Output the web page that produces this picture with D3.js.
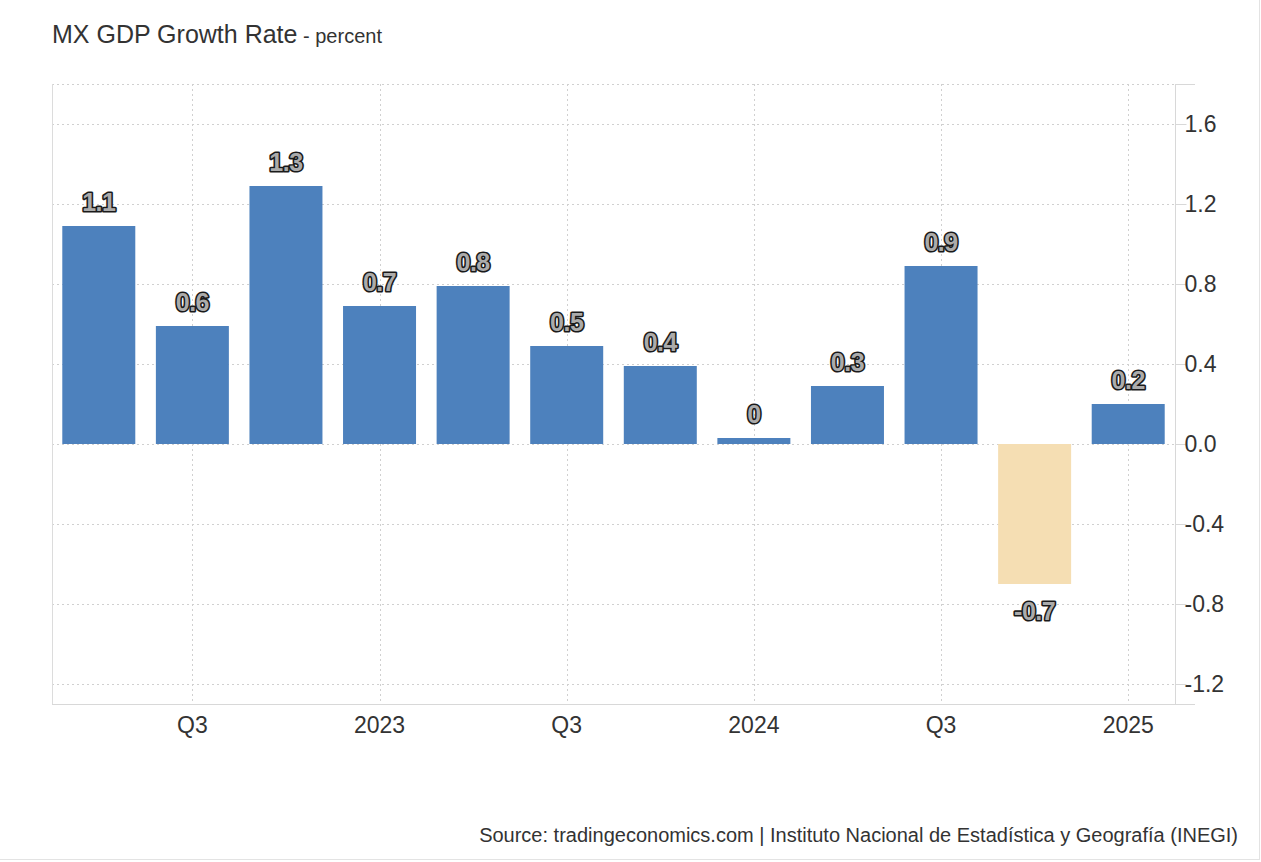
<!DOCTYPE html>
<html>
<head>
<meta charset="utf-8">
<script src="https://cdn.jsdelivr.net/npm/d3@7"></script>
<style>
  body { margin: 0; background: #fff; }
  svg { font-family: "Liberation Sans", Arial, Helvetica, sans-serif; }
</style>
</head>
<body>
<svg id="chart"></svg>
<script>
// quarters Q2 2022 .. Q1 2025
const quarters = ["2022Q2", "2022Q3", "2022Q4", "2023Q1", "2023Q2", "2023Q3",
                  "2023Q4", "2024Q1", "2024Q2", "2024Q3", "2024Q4", "2025Q1"];
const growth = [1.09, 0.59, 1.29, 0.69, 0.79, 0.49, 0.39, 0.03, 0.29, 0.89, -0.7, 0.2];
const valueLabels = ["1.1", "0.6", "1.3", "0.7", "0.8", "0.5", "0.4", "0", "0.3", "0.9", "-0.7", "0.2"];
const xTicks = {"2022Q3": "Q3", "2023Q1": "2023", "2023Q3": "Q3", "2024Q1": "2024", "2024Q3": "Q3", "2025Q1": "2025"};
const yTicks = [-1.2, -0.8, -0.4, 0.0, 0.4, 0.8, 1.2, 1.6];

const width = 1261, height = 862;
const margin = { top: 84, right: 86, bottom: 158, left: 52 };

const svg = d3.select("#chart")
    .attr("width", width)
    .attr("height", height);

const xScale = d3.scaleBand()
    .domain(quarters)
    .range([margin.left, width - margin.right])
    .paddingInner(0.22)
    .paddingOuter(0.11);

const yScale = d3.scaleLinear()
    .domain([-1.3, 1.8])
    .range([height - margin.bottom, margin.top]);

const plotBottom = height - margin.bottom, plotRight = width - margin.right;

// outer page border
svg.append("line").attr("x1", 1259.5).attr("x2", 1259.5).attr("y1", 0).attr("y2", 860)
    .attr("stroke", "#e3e3e3");
svg.append("line").attr("x1", 0).attr("x2", 1260).attr("y1", 859.5).attr("y2", 859.5)
    .attr("stroke", "#e3e3e3");

// title
const title = svg.append("text")
    .attr("x", 52)
    .attr("y", 43)
    .attr("fill", "#333");
title.append("tspan").style("font-size", "25px").text("MX GDP Growth Rate");
title.append("tspan").style("font-size", "20px").text(" - percent");

// horizontal dotted grid
svg.append("g")
    .selectAll("line")
    .data(yTicks.concat([1.8]))
    .enter()
    .append("line")
    .attr("x1", margin.left)
    .attr("x2", plotRight)
    .attr("y1", d => Math.round(yScale(d)) + 0.5)
    .attr("y2", d => Math.round(yScale(d)) + 0.5)
    .attr("stroke", "#d0d0d0")
    .attr("stroke-dasharray", "2,3");

// vertical dotted grid at the labelled quarters
svg.append("g")
    .selectAll("line")
    .data(Object.keys(xTicks))
    .enter()
    .append("line")
    .attr("x1", d => Math.round(xScale(d) + xScale.bandwidth() / 2) + 0.5)
    .attr("x2", d => Math.round(xScale(d) + xScale.bandwidth() / 2) + 0.5)
    .attr("y1", margin.top)
    .attr("y2", plotBottom)
    .attr("stroke", "#d0d0d0")
    .attr("stroke-dasharray", "2,3");

// left frame line
svg.append("line")
    .attr("x1", margin.left + 0.5).attr("x2", margin.left + 0.5)
    .attr("y1", margin.top).attr("y2", plotBottom)
    .attr("stroke", "#dcdcdc");

// bars
svg.selectAll(".bar")
    .data(growth)
    .enter()
    .append("rect")
    .attr("class", "bar")
    .attr("x", (_, i) => xScale(quarters[i]))
    .attr("y", d => yScale(Math.max(0, d)))
    .attr("width", xScale.bandwidth())
    .attr("height", d => Math.abs(yScale(d) - yScale(0)))
    .attr("fill", d => d < 0 ? "#f5deb3" : "#4d81bd");

// value labels, gray fill with dark outline
svg.selectAll(".vlabel")
    .data(growth)
    .enter()
    .append("text")
    .attr("class", "vlabel")
    .attr("x", (_, i) => xScale(quarters[i]) + xScale.bandwidth() / 2)
    .attr("y", d => d < 0 ? yScale(d) + 36 : yScale(d) - 15)
    .attr("text-anchor", "middle")
    .style("font-size", "25px")
    .style("font-weight", "bold")
    .style("letter-spacing", "-0.5px")
    .style("paint-order", "stroke")
    .attr("fill", "#ababab")
    .attr("stroke", "#1a1a1a")
    .attr("stroke-width", 3.2)
    .attr("stroke-linejoin", "round")
    .text((_, i) => valueLabels[i]);

// right y axis
const yAxisGroup = svg.append("g")
    .attr("transform", `translate(${plotRight + 0.5},0)`)
    .call(d3.axisRight(yScale).tickValues(yTicks).tickSize(11).tickPadding(0)
        .tickFormat(d => d3.format(".1f")(d).replace("−", "-")));
yAxisGroup.select(".domain").remove();
yAxisGroup.selectAll(".tick line").attr("stroke", "#d8d8d8");
yAxisGroup.selectAll(".tick text")
    .attr("x", 9)
    .attr("fill", "#333")
    .style("font-size", "23px")
    .style("font-family", "\"Liberation Sans\", Arial, sans-serif");
svg.append("line")
    .attr("x1", plotRight + 0.5).attr("x2", plotRight + 0.5)
    .attr("y1", margin.top).attr("y2", plotBottom)
    .attr("stroke", "#d8d8d8");
svg.append("line")
    .attr("x1", plotRight).attr("x2", plotRight + 20)
    .attr("y1", margin.top + 0.5).attr("y2", margin.top + 0.5)
    .attr("stroke", "#d8d8d8");

// bottom x axis
const xAxisGroup = svg.append("g")
    .attr("transform", `translate(0,${plotBottom + 0.5})`)
    .call(d3.axisBottom(xScale).tickValues(Object.keys(xTicks)).tickSize(0).tickPadding(12)
        .tickFormat(d => xTicks[d]));
xAxisGroup.select(".domain").remove();
xAxisGroup.selectAll(".tick text")
    .attr("fill", "#333")
    .style("font-size", "23px")
    .style("font-family", "\"Liberation Sans\", Arial, sans-serif");
svg.append("line")
    .attr("x1", margin.left).attr("x2", plotRight + 20)
    .attr("y1", plotBottom + 0.5).attr("y2", plotBottom + 0.5)
    .attr("stroke", "#d8d8d8");

// source
svg.append("text")
    .attr("x", 1238)
    .attr("y", 842)
    .attr("text-anchor", "end")
    .attr("fill", "#333")
    .style("font-size", "20px")
    .text("Source: tradingeconomics.com | Instituto Nacional de Estadística y Geografía (INEGI)");
</script>
</body>
</html>
